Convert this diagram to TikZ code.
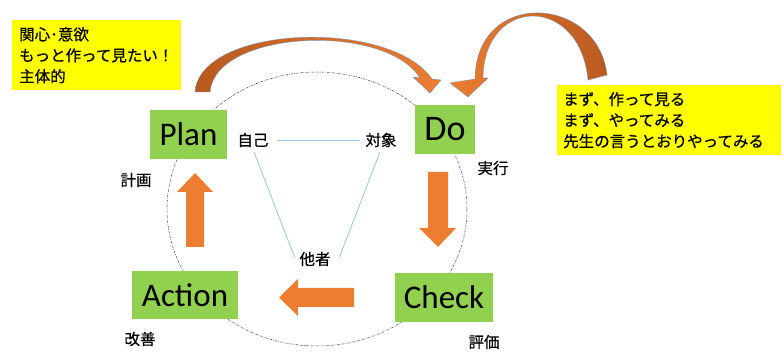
\documentclass[tikz,border=0pt]{standalone}
\usepackage{fontspec}
\setmainfont{Carlito}
\newfontfamily\jp[FakeBold=0.6]{Noto Sans CJK JP}
\definecolor{ygold}{HTML}{FFFF00}
\definecolor{pgreen}{HTML}{92D050}
\definecolor{porange}{HTML}{ED7D31}
\definecolor{pdark}{HTML}{B85A1E}
\definecolor{pblue}{HTML}{9DC3E6}
\definecolor{poutline}{HTML}{6F8FBF}
\begin{document}
\begin{tikzpicture}[x=1pt,y=-1pt,
  gbox/.style={fill=pgreen, inner sep=0pt, font=\fontsize{33}{33}\selectfont},
  ybox/.style={fill=ygold, inner sep=6pt, align=left, anchor=north west,
     font=\jp\fontsize{15.5}{21}\selectfont},
  lbl/.style={inner sep=2pt, font=\jp\fontsize{15.5}{18}\selectfont},
  bluel/.style={draw=pblue, line width=0.8pt},
  circ/.style={draw=black!75, line width=0.5pt, dash pattern=on 2.2pt off 1.2pt on 0.6pt off 1.2pt},
  blockarrow/.style={fill=porange},
  curvarrow/.style={draw=poutline, line width=0.3pt}]
\useasboundingbox (0,0) rectangle (782,352);
\fill[white] (0,0) rectangle (782,352);

% dash-dot cycle
\draw[circ] (317,209) ellipse [x radius=150pt, y radius=137pt];

% yellow boxes
\node[ybox, minimum width=169pt, minimum height=69pt, text width=155pt, inner sep=7pt] (ytl) at (12,20)
  {関心･意欲\\もっと作って見たい！\\主体的};
\node[ybox, minimum width=224pt, minimum height=70pt, text width=212pt] (ytr) at (557,85)
  {まず、作って見る\\まず、やってみる\\先生の言うとおりやってみる};

% green boxes
\node[gbox, minimum width=77pt, minimum height=49pt] (plan) at (188.5,134.5) {Plan};
\node[gbox, minimum width=60pt, minimum height=49pt, font=\fontsize{36}{36}\selectfont] (do) at (445,129.5) {Do};
\node[gbox, minimum width=98pt, minimum height=49pt] (check) at (444,297.5) {Check};
\node[gbox, minimum width=106pt, minimum height=48pt] (action) at (185,295) {Action};

% labels
\node[lbl] (keikaku) at (136,180) {計画};
\node[lbl] (kaizen) at (140,339) {改善};
\node[lbl] (hyouka) at (484,342) {評価};
\node[lbl] (jikkou) at (493,168) {実行};
\node[lbl] (jiko) at (253,140) {自己};
\node[lbl] (taisho) at (381,140) {対象};
\node[lbl] (tasha) at (315,259) {他者};

% blue triangle
\draw[bluel, shorten <=6pt, shorten >=3pt] (jiko.east) -- (taisho.west);
\draw[bluel, shorten <=3pt, shorten >=2pt] (jiko.south) -- ([xshift=-2pt]tasha.west);
\draw[bluel, shorten <=3pt, shorten >=2pt] (taisho.south) -- ([xshift=6pt]tasha.east);

% block arrows
\fill[blockarrow] (186,247) -- (186,192) -- (177,192) -- (195,173) -- (213,192) -- (204,192) -- (204,247) -- cycle;
\fill[blockarrow] (428,172) -- (448,172) -- (448,228) -- (456,228) -- (438,247) -- (419,228) -- (428,228) -- cycle;
\fill[blockarrow] (354,288) -- (298,288) -- (298,279) -- (279,297.5) -- (298,316) -- (298,307) -- (354,307) -- cycle;

% curved arrow Plan -> Do
\shade[curvarrow, left color=pdark, right color=porange]
  (195,92) .. controls (200,25) and (390,18) .. (432,79) -- (441,80) -- (430,93) -- (413,77) -- (420,78)
  .. controls (385,22) and (215,30) .. (210,92) -- cycle;

% curved arrow right -> Do
\shade[curvarrow, left color=porange, right color=pdark]
  (607,75) .. controls (598,-5) and (476,-12) .. (475,79) -- (450,83) -- (468,97) -- (488,78) -- (483,78)
  .. controls (484,-4) and (580,-6) .. (588,80) -- cycle;
\end{tikzpicture}
\end{document}
